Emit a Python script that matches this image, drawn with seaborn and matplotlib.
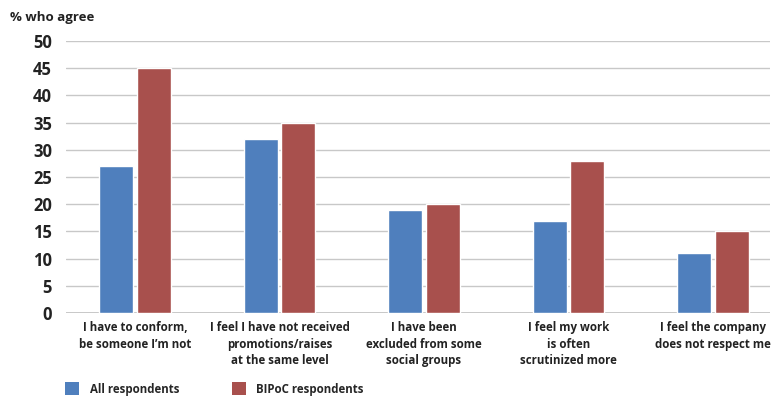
import matplotlib
matplotlib.use("Agg")
import matplotlib.pyplot as plt
import seaborn as sns
import pandas as pd
from matplotlib.patches import Patch

categories = [
    "I have to conform,\nbe someone I\u2019m not",
    "I feel I have not received\npromotions/raises\nat the same level",
    "I have been\nexcluded from some\nsocial groups",
    "I feel my work\nis often\nscrutinized more",
    "I feel the company\ndoes not respect me",
]
series_names = ["All respondents", "BIPoC respondents"]
all_values = [27, 32, 19, 17, 11]
bipoc_values = [45, 35, 20, 28, 15]
y_ticks = [0, 5, 10, 15, 20, 25, 30, 35, 40, 45, 50]
colors = ["#4f7fbd", "#a8504d"]

df = pd.DataFrame({
    "category": categories * 2,
    "group": [series_names[0]] * 5 + [series_names[1]] * 5,
    "value": all_values + bipoc_values,
})

sns.set_theme(style="white")
plt.rcParams["font.family"] = ["Open Sans", "DejaVu Sans"]

fig = plt.figure(figsize=(7.77, 3.96), dpi=100)
ax = fig.add_axes([66 / 777, 1 - 313 / 396, (770 - 66) / 777, (313 - 41) / 396])

sns.barplot(data=df, x="category", y="value", hue="group", order=categories,
            hue_order=series_names, palette=colors, width=0.52, gap=0.1,
            saturation=1, ax=ax, legend=False)

ax.set_ylim(0, 50)
ax.set_xlim(-0.477, 4.394)
ax.set_yticks(y_ticks)
ax.set_yticklabels([str(t) for t in y_ticks], fontsize=12, fontweight="bold", color="#222222")
ax.yaxis.grid(True, color="#c8c8c8", linewidth=1)
ax.set_axisbelow(True)
for s in ["top", "right", "left", "bottom"]:
    ax.spines[s].set_visible(False)
ax.axhline(0, color="#c0c0c0", linewidth=1.2, zorder=0)
ax.tick_params(axis="y", length=0, pad=10)
ax.tick_params(axis="x", length=0, pad=6)
ax.set_xticks(range(len(categories)))
ax.set_xticklabels(categories, fontsize=8.3, fontweight="bold", color="#222222",
                   linespacing=1.35, va="top")
ax.set_xlabel("")
ax.set_ylabel("")

fig.text(10 / 777, 1 - 18 / 396, "% who agree", fontsize=9.5, fontweight="bold",
         color="#222222", va="center", ha="left")

handles = [Patch(facecolor=c, edgecolor="none") for c in colors]
fig.legend(handles, series_names, loc="lower left", bbox_to_anchor=(55 / 777, -0.025),
           ncol=2, frameon=False, prop={"weight": "bold", "size": 8.3},
           handlelength=1.2, handleheight=1.3, columnspacing=4.6, handletextpad=0.9)

fig.savefig("out.png", dpi=100)
